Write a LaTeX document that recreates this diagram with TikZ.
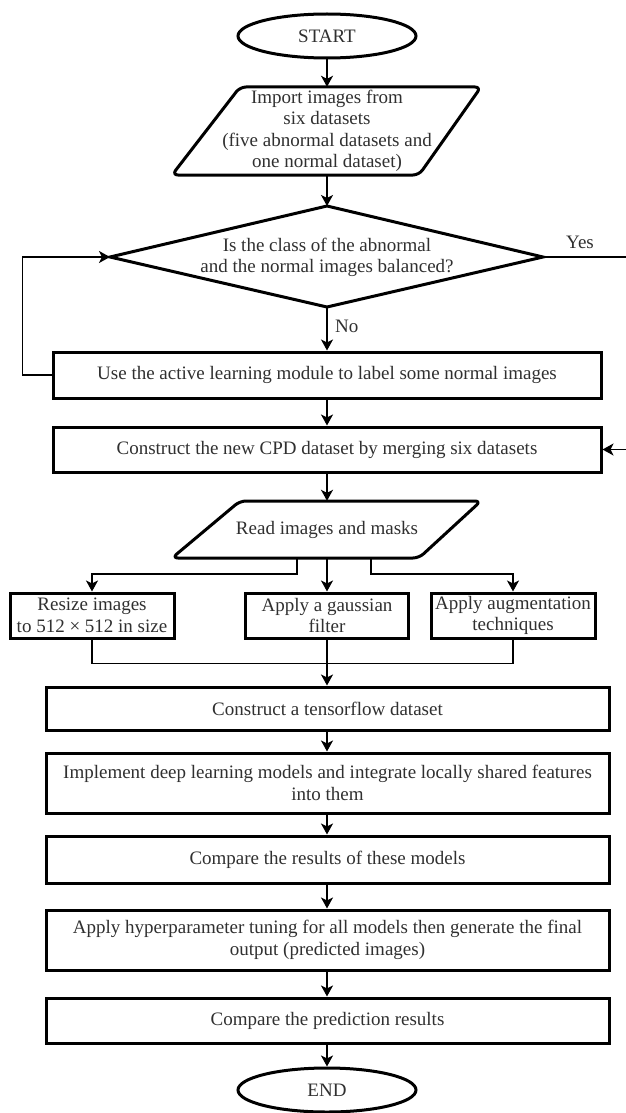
\documentclass[tikz,border=0pt]{standalone}
\usepackage{fontspec}
\setmainfont{Liberation Serif}
\usetikzlibrary{arrows.meta,shapes.geometric,calc}
\definecolor{txt}{HTML}{303030}
\begin{document}
\begin{tikzpicture}[x=1pt,y=-1pt,
  font=\fontsize{19}{21.5}\selectfont, text=txt,
  proc/.style={draw=black, line width=3pt, rectangle, align=center, inner sep=1pt},
  term/.style={ellipse, draw=black, line width=3pt, minimum width=178pt, minimum height=44pt, inner sep=0pt},
  ghost/.style={inner sep=0pt, align=center, minimum width=240pt},
  parashape/.style={draw=black, line width=3pt, rounded corners=6pt, line join=round},
  decshape/.style={draw=black, line width=3pt, line join=miter},
  conn/.style={draw=black, line width=1.6pt, -{Stealth[length=11pt,width=12pt,inset=3pt]}},
  plainline/.style={draw=black, line width=1.6pt},
  lbl/.style={inner sep=0pt}
]
\fill[white] (0,0) rectangle (626,1113);
\useasboundingbox (0,0) rectangle (626,1113);

% terminals
\node[term] (start) at (327,36) {START};
\node[term] (end) at (327,1090) {END};

% import parallelogram
\draw[parashape] (240,87) -- (481,87) -- (419,175) -- (172,175) -- cycle;
\node[ghost, minimum height=88pt] (import) at (327,131) {Import images from\\six datasets\\(five abnormal datasets and\\one normal dataset)};

% decision diamond
\coordinate (dt) at (327,206);
\coordinate (dr) at (543,257);
\coordinate (db) at (327,307);
\coordinate (dl) at (110,257);
\draw[decshape] (dl) -- (dt) -- (dr) -- (db) -- cycle;
\node[lbl, align=center] (dec) at (327,257.5) {Is the class of the abnormal\\and the normal images balanced?};

% process boxes
\node[proc, minimum width=548pt, minimum height=46pt] (active) at (327,375) {Use the active learning module to label some normal images};
\node[proc, minimum width=548pt, minimum height=45pt] (cpd) at (327,449.5) {Construct the new CPD dataset by merging six datasets};

% read parallelogram
\draw[parashape] (240,501) -- (481,501) -- (419,558) -- (172,558) -- cycle;
\node[ghost, minimum height=57pt] (read) at (327,529.5) {Read images and masks};

% three boxes
\node[proc, minimum width=164pt, minimum height=45pt] (resize) at (92,615.5) {Resize images\\to 512 × 512 in size};
\node[proc, minimum width=163pt, minimum height=45pt] (gauss) at (327,615.5) {Apply a gaussian\\filter};
\node[proc, minimum width=164pt, minimum height=45pt] (augm) at (513,615.5) {Apply augmentation\\techniques};

% lower boxes
\node[proc, minimum width=563pt, minimum height=43pt] (tf) at (327.5,708.5) {Construct a tensorflow dataset};
\node[proc, minimum width=563pt, minimum height=60pt] (impl) at (327.5,783) {Implement deep learning models and integrate locally shared features\\into them};
\node[proc, minimum width=563pt, minimum height=47pt] (comp) at (327.5,859.5) {Compare the results of these models};
\node[proc, minimum width=563pt, minimum height=60pt] (hyper) at (327.5,940) {Apply hyperparameter tuning for all models then generate the final\\output (predicted images)};
\node[proc, minimum width=563pt, minimum height=45pt] (pred) at (327.5,1020.5) {Compare the prediction results};

% labels
\node[lbl, anchor=west] (nolbl) at (335,326) {No};
\node[lbl] (yeslbl) at (580,242) {Yes};

% free ends
\coordinate (yesend) at (626,257);
\coordinate (cpdin) at (626,449.5);

% connectors
\draw[conn] (start) -- (import.north);
\draw[conn] (import.south) -- (dt);
\draw[conn] (db) -- (active.north);
\draw[conn] (active.west) -- ++(-29,0) |- (dl);
\draw[plainline] (dr) -- (yesend);
\draw[conn] (cpdin) -- (cpd.east);
\draw[conn] (active.south) -- (cpd.north);
\draw[conn] (cpd.south) -- (read.north);
\draw[conn] ([xshift=-30pt]read.south) -- ++(0,16) -| (resize.north);
\draw[conn] ([xshift=44pt]read.south) -- ++(0,16) -| (augm.north);
\draw[conn] (read.south) -- (gauss.north);
\draw[plainline] (resize.south) -- ++(0,24) -| (augm.south);
\draw[conn] (gauss.south) -- (gauss.south |- tf.north);
\draw[conn] (tf.south -| gauss.south) -- (impl.north -| gauss.south);
\draw[conn] (impl.south -| gauss.south) -- (comp.north -| gauss.south);
\draw[conn] (comp.south -| gauss.south) -- (hyper.north -| gauss.south);
\draw[conn] (hyper.south -| gauss.south) -- (pred.north -| gauss.south);
\draw[conn] (pred.south -| gauss.south) -- (end);
\end{tikzpicture}
\end{document}
